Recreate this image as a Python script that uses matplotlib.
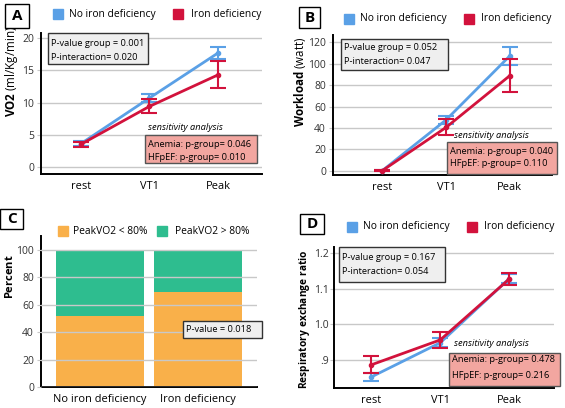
import matplotlib
matplotlib.use('Agg')
import matplotlib.pyplot as plt
from matplotlib.patches import Rectangle

plt.rcParams['font.family'] = ['Open Sans', 'DejaVu Sans']
plt.rcParams['mathtext.fontset'] = 'custom'
plt.rcParams['mathtext.rm'] = 'Open Sans'
plt.rcParams['mathtext.bf'] = 'Open Sans:bold'

BLUE = '#5aa0e6'
RED = '#d2123c'
ORANGE = '#f9b04a'
GREEN = '#2ebd8f'
PINK = '#f2a6a0'
GRID = '#c8c8c8'

W, H = 565, 408
FS_LEG = 7.4
FS_NOTE = 6.7
FS_XT = 7.9
FS_YT = 7.5

# data
stages = ['rest', 'VT1', 'Peak']
vo2_no = [3.6, 10.7, 17.7]
vo2_no_err = [0.35, 0.6, 1.0]
vo2_id = [3.5, 9.4, 14.3]
vo2_id_err = [0.4, 1.1, 2.1]

wl_no = [0, 47.5, 107.5]
wl_no_err = [0.5, 4.0, 8.5]
wl_id = [0, 40.5, 89.0]
wl_id_err = [0.5, 7.5, 15.5]

rer_no = [0.852, 0.948, 1.128]
rer_no_err = [0.011, 0.013, 0.012]
rer_id = [0.886, 0.956, 1.127]
rer_id_err = [0.024, 0.022, 0.018]

groups = ['No iron deficiency', 'Iron deficiency']
pct_low = [52, 69.5]
pct_high = [48, 30.5]


def px_rect(x0, y0, x1, y1):
    return [x0 / W, 1 - y1 / H, (x1 - x0) / W, (y1 - y0) / H]


def ftext(fig, x, y, s, **kw):
    kw.setdefault('va', 'center')
    return fig.text(x / W, 1 - y / H, s, **kw)


def fbox(fig, x0, y0, x1, y1, fc, ec='#333333'):
    fig.patches.append(Rectangle((x0 / W, 1 - y1 / H), (x1 - x0) / W, (y1 - y0) / H,
                                 transform=fig.transFigure, fc=fc, ec=ec, lw=1.0))


def style_ax(ax):
    for s in ['top', 'right']:
        ax.spines[s].set_visible(False)
    for s in ['left', 'bottom']:
        ax.spines[s].set_linewidth(1.4)
    ax.yaxis.grid(True, color=GRID, lw=1.0)
    ax.tick_params(axis='y', labelsize=FS_YT, length=3, color=GRID, pad=2, labelcolor='#333333')
    ax.tick_params(axis='x', labelsize=FS_XT, length=0, pad=5)


def draw_lines(ax, no, no_err, idd, id_err):
    x = range(len(stages))
    ax.errorbar(x, no, yerr=no_err, color=BLUE, lw=2, elinewidth=1.5,
                capsize=6, capthick=1.5, marker='o', ms=3, zorder=3)
    ax.errorbar(x, idd, yerr=id_err, color=RED, lw=2, elinewidth=1.5,
                capsize=6, capthick=1.5, marker='o', ms=3, zorder=4)
    ax.set_xticks(list(x))
    ax.set_xticklabels(stages)


def legend(fig, x1, t1, x2, t2, y, c1, c2, l1, l2):
    for xs, xt, c, l in [(x1, t1, c1, l1), (x2, t2, c2, l2)]:
        fbox(fig, xs, y - 5, xs + 10, y + 5, c, ec=c)
        ftext(fig, xt, y, l, fontsize=FS_LEG, ha='left')


def letter(fig, x0, y0, x1, y1, s):
    fbox(fig, x0, y0, x1, y1, 'white', ec='black')
    ftext(fig, (x0 + x1) / 2, (y0 + y1) / 2, s, fontsize=11, fontweight='bold', ha='center')


def stat_boxes(fig, gray, gl, sens, pink, pl):
    fbox(fig, *gray, '#efefef', ec='#333333')
    ftext(fig, gray[0] + 3, gl[0], gl[2], fontsize=FS_NOTE, ha='left')
    ftext(fig, gray[0] + 3, gl[1], gl[3], fontsize=FS_NOTE, ha='left')
    ftext(fig, sens[0], sens[1], 'sensitivity analysis', fontsize=FS_NOTE, style='italic', ha='left')
    fbox(fig, *pink, PINK, ec='#555555')
    ftext(fig, pink[0] + 3, pl[0], pl[2], fontsize=FS_NOTE, ha='left')
    ftext(fig, pink[0] + 3, pl[1], pl[3], fontsize=FS_NOTE, ha='left')


fig = plt.figure(figsize=(W / 100, H / 100), dpi=100)

# panel A
axA = fig.add_axes(px_rect(41, 33, 262, 174))
style_ax(axA)
draw_lines(axA, vo2_no, vo2_no_err, vo2_id, vo2_id_err)
axA.set_ylim(-1.1, 20.8)
axA.set_xlim(-0.58, 2.64)
axA.set_yticks([0, 5, 10, 15, 20])
letter(fig, 5, 4, 29, 28, 'A')
legend(fig, 53, 69, 173, 191, 14, BLUE, RED, groups[0], groups[1])
ftext(fig, 12, 71, r'$\bf{VO2}$ (ml/Kg/min)', fontsize=8.4, rotation=90, ha='center')
stat_boxes(fig, (48, 33, 148, 64), (44, 57, 'P-value group = 0.001', 'P-interaction= 0.020'),
           (148, 127), (145, 135, 257, 163),
           (144, 157, 'Anemia: p-group= 0.046', 'HFpEF: p-group= 0.010'))

# panel B
axB = fig.add_axes(px_rect(333, 35, 552, 175))
style_ax(axB)
draw_lines(axB, wl_no, wl_no_err, wl_id, wl_id_err)
axB.set_ylim(-4, 127)
axB.set_xlim(-0.77, 2.66)
axB.set_yticks([0, 20, 40, 60, 80, 100, 120])
letter(fig, 299, 7, 320, 28, 'B')
legend(fig, 344, 360, 464, 481, 19, BLUE, RED, groups[0], groups[1])
ftext(fig, 300, 82, r'$\bf{Workload}$ (watt)', fontsize=8.3, rotation=90, ha='center')
stat_boxes(fig, (341, 39, 448, 70), (48, 61, 'P-value group = 0.052', 'P-interaction= 0.047'),
           (454, 135), (447, 142, 557, 174),
           (151, 164, 'Anemia: p-group= 0.040', 'HFpEF: p-group= 0.110'))

# panel C
axC = fig.add_axes(px_rect(41, 236, 257, 387))
style_ax(axC)
axC.set_axisbelow(False)
xc = range(len(groups))
axC.bar(xc, pct_low, width=0.9, color=ORANGE, zorder=1)
axC.bar(xc, pct_high, bottom=pct_low, width=0.9, color=GREEN, zorder=1)
axC.set_ylim(0, 110)
axC.set_xlim(-0.6, 1.6)
axC.set_yticks([0, 20, 40, 60, 80, 100])
axC.set_xticks(list(xc))
axC.set_xticklabels(groups)
letter(fig, 0, 209, 23, 229, 'C')
legend(fig, 58, 73, 157, 175, 231, ORANGE, GREEN, 'PeakVO2 < 80%', 'PeakVO2 > 80%')
ftext(fig, 10, 277, r'$\bf{Percent}$', fontsize=8, rotation=90, ha='center')
fbox(fig, 183, 321, 262, 338, '#efefef')
ftext(fig, 186, 330, 'P-value = 0.018', fontsize=FS_NOTE, ha='left')

# panel D
axD = fig.add_axes(px_rect(334, 247, 554, 388))
style_ax(axD)
draw_lines(axD, rer_no, rer_no_err, rer_id, rer_id_err)
axD.set_ylim(0.821, 1.217)
axD.set_xlim(-0.54, 2.65)
axD.set_yticks([0.9, 1.0, 1.1, 1.2])
axD.set_yticklabels(['.9', '1.0', '1.1', '1.2'])
axD.tick_params(axis='y', pad=1)
letter(fig, 300, 214, 324, 234, 'D')
legend(fig, 347, 363, 467, 484, 227, BLUE, RED, groups[0], groups[1])
ftext(fig, 305, 319, r'$\bf{Respiratory\ exchange\ ratio}$', fontsize=7.3, rotation=90, ha='center')
stat_boxes(fig, (339, 247, 445, 282), (258, 271, 'P-value group = 0.167', 'P-interaction= 0.054'),
           (454, 344), (449, 353, 560, 386),
           (360, 376, 'Anemia: p-group= 0.478', 'HFpEF: p-group= 0.216'))

fig.savefig('out.png', dpi=100)
